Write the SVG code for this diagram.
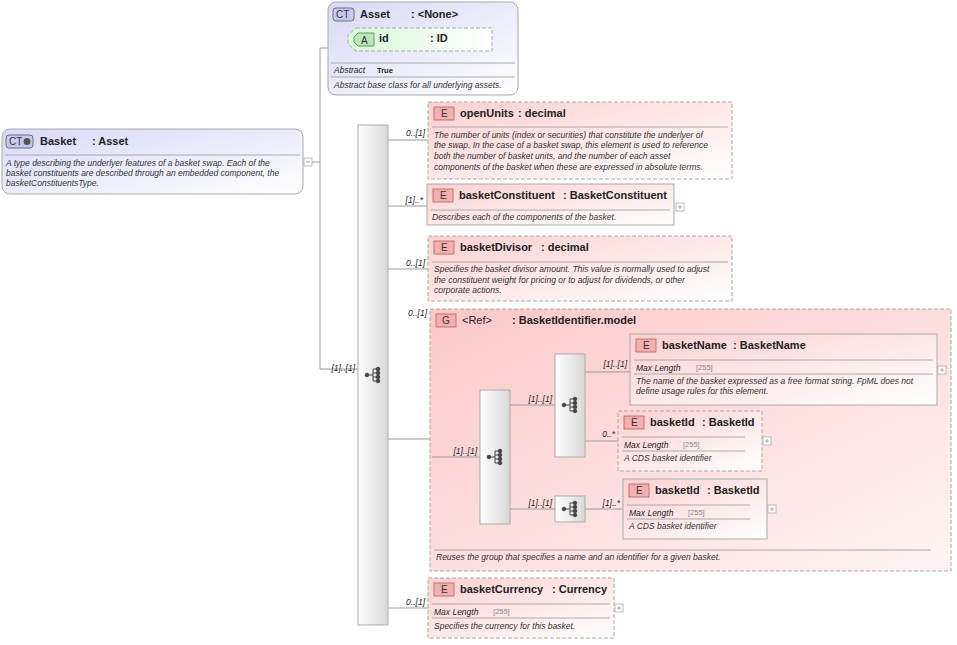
<svg xmlns="http://www.w3.org/2000/svg" width="957" height="645" viewBox="0 0 957 645">
<defs>
<linearGradient id="gct" x1="0" y1="0" x2="1" y2="1"><stop offset="0" stop-color="#d8d8f8"/><stop offset="1" stop-color="#ffffff"/></linearGradient>
<linearGradient id="gel" x1="0" y1="0" x2="1" y2="1"><stop offset="0" stop-color="#fcd0d0"/><stop offset="1" stop-color="#ffffff"/></linearGradient>
<linearGradient id="ggr" x1="0" y1="0" x2="1" y2="1"><stop offset="0" stop-color="#fcc8c8"/><stop offset="1" stop-color="#fff4f4"/></linearGradient>
<linearGradient id="gat" x1="0" y1="0" x2="1" y2="0"><stop offset="0" stop-color="#d8f8d8"/><stop offset="1" stop-color="#ffffff"/></linearGradient>
<linearGradient id="gseq" x1="0" y1="0" x2="1" y2="0"><stop offset="0" stop-color="#ffffff"/><stop offset="1" stop-color="#d8d8d8"/></linearGradient>
<g id="seqicon" fill="#444" stroke="#444" stroke-width="1">
<circle cx="-6" cy="0" r="1.8"/><line x1="-6" y1="0" x2="0" y2="0"/><line x1="0" y1="-6" x2="0" y2="6"/>
<line x1="0" y1="-6" x2="5" y2="-6"/><line x1="0" y1="6" x2="5" y2="6"/><line x1="0" y1="2" x2="5" y2="2"/><line x1="0" y1="-2" x2="5" y2="-2"/>
<circle cx="5" cy="-6" r="1.8"/><circle cx="5" cy="-2" r="1.8"/><circle cx="5" cy="2" r="1.8"/><circle cx="5" cy="6" r="1.8"/>
</g>
<g id="plus"><rect x="0" y="0" width="8" height="8" fill="#fff" stroke="#aaa" stroke-width="0.8"/><path d="M2 4h4M4 2v4" stroke="#999" stroke-width="0.8"/></g>
</defs>
<style>
text{font-family:"Liberation Sans",Arial,sans-serif;fill:#222}
.t{font-size:11px;font-weight:bold}
.d{font-size:8.5px;font-style:italic;fill:#333}
.m{font-size:8.5px;font-style:italic}
.v{font-size:7.5px;fill:#888}
.c{font-size:8.5px;font-style:italic}
.ct{fill:url(#gct);stroke:#aaa;stroke-width:1}
.el{fill:url(#gel);stroke:#aaa;stroke-width:1}
.eld{fill:url(#gel);stroke:#aaa;stroke-width:1;stroke-dasharray:4,2}
.sep{stroke:#999;stroke-width:0.8}
.seq{fill:url(#gseq);stroke:#aaa;stroke-width:1}
.badgeE{fill:#f4b0b0;stroke:#b06060;stroke-width:0.8}
.bl{font-size:10px;fill:#333}
.ln{stroke:#999;stroke-width:1;fill:none}
</style>

<g id="group">
<rect x="430" y="309" width="521" height="262" fill="url(#ggr)" stroke="#aaa" stroke-dasharray="4,2"/>
<rect x="436" y="314" width="20" height="13" fill="#f4b0b0" stroke="#b06060" stroke-width="0.8"/><text class="bl" x="442" y="324">G</text>
<text x="462" y="324" style="font-size:11px">&lt;Ref&gt;</text><text class="t" x="512" y="324">: BasketIdentifier.model</text>
<line class="sep" x1="434" y1="550" x2="931" y2="550"/>
<text class="d" x="436" y="560">Reuses the group that specifies a name and an identifier for a given basket.</text>
</g>

<g id="connectors">
<path class="ln" d="M312 162H320M320 48V369M320 48H350M320 369H358"/>
<path class="ln" d="M388 140H428M388 206H427M388 269H428M388 439H430M388 608H428"/>
<path class="ln" d="M432 457H480M510 405H555M510 509H555M585 372H630M585 441H618M585 509H623"/>
<text class="c" x="425" y="136" text-anchor="end">0..[1]</text>
<text class="c" x="423" y="203" text-anchor="end">[1]..*</text>
<text class="c" x="425" y="266" text-anchor="end">0..[1]</text>
<text class="c" x="427" y="316" text-anchor="end">0..[1]</text>
<text class="c" x="425" y="605" text-anchor="end">0..[1]</text>
<text class="c" x="355" y="371" text-anchor="end">[1]..[1]</text>
<text class="c" x="477" y="454" text-anchor="end">[1]..[1]</text>
<text class="c" x="552" y="402" text-anchor="end">[1]..[1]</text>
<text class="c" x="552" y="506" text-anchor="end">[1]..[1]</text>
<text class="c" x="627" y="367" text-anchor="end">[1]..[1]</text>
<text class="c" x="615" y="437" text-anchor="end">0..*</text>
<text class="c" x="620" y="506" text-anchor="end">[1]..*</text>
</g>

<g id="basket">
<rect class="ct" x="2" y="129" width="301" height="65" rx="8"/>
<rect x="6" y="135" width="27" height="13" rx="3" fill="#c8c8f0" stroke="#555" stroke-width="0.8"/>
<text class="bl" x="9" y="145">CT</text><circle cx="27" cy="141.5" r="3.5" fill="#555"/>
<text class="t" x="40" y="145">Basket</text><text class="t" x="92" y="145">: Asset</text>
<line class="sep" x1="5" y1="155" x2="300" y2="155"/>
<text class="d" x="6" y="166">A type describing the underlyer features of a basket swap. Each of the</text>
<text class="d" x="6" y="176">basket constituents are described through an embedded component, the</text>
<text class="d" x="6" y="186">basketConstituentsType.</text>
<rect x="304" y="158" width="8" height="8" fill="#fff" stroke="#aaa" stroke-width="0.8"/><path d="M306 162h4" stroke="#999"/>
</g>

<g id="asset">
<rect class="ct" x="328" y="2" width="190" height="93" rx="8"/>
<rect x="333" y="8" width="21" height="13" rx="3" fill="#c8c8f0" stroke="#555" stroke-width="0.8"/>
<text class="bl" x="336" y="18">CT</text>
<text class="t" x="360" y="18">Asset</text><text class="t" x="411" y="18">: &lt;None&gt;</text>
<path d="M356 28H492V51H356L348 44V35Z" fill="url(#gat)" stroke="#aaa" stroke-dasharray="4,2"/>
<path d="M358 33H374V46H358L354 42V37Z" fill="#b8e8b8" stroke="#508050" stroke-width="0.8"/>
<text class="bl" x="361" y="44">A</text>
<text class="t" x="379" y="42">id</text><text class="t" x="430" y="42">: ID</text>
<line class="sep" x1="331" y1="63" x2="515" y2="63"/>
<text class="m" x="334" y="73">Abstract</text><text x="377" y="73" style="font-size:7.5px;font-weight:bold">True</text>
<line class="sep" x1="331" y1="77" x2="515" y2="77"/>
<text class="d" x="334" y="88">Abstract base class for all underlying assets.</text>
</g>

<g id="seqMain"><rect class="seq" x="358" y="125" width="30" height="500"/><use href="#seqicon" x="373" y="375"/></g>

<g id="openUnits">
<rect class="eld" x="428" y="102" width="304" height="77"/>
<rect class="badgeE" x="434" y="107" width="20" height="13"/><text class="bl" x="441" y="117">E</text>
<text class="t" x="460" y="117">openUnits</text><text class="t" x="518" y="117">: decimal</text>
<line class="sep" x1="432" y1="127" x2="728" y2="127"/>
<text class="d" x="434" y="138">The number of units (index or securities) that constitute the underlyer of</text>
<text class="d" x="434" y="148">the swap. In the case of a basket swap, this element is used to reference</text>
<text class="d" x="434" y="159">both the number of basket units, and the number of each asset</text>
<text class="d" x="434" y="170">components of the basket when these are expressed in absolute terms.</text>
</g>

<g id="basketConstituent">
<rect class="el" x="427" y="184" width="247" height="41"/>
<rect class="badgeE" x="433" y="189" width="20" height="13"/><text class="bl" x="440" y="199">E</text>
<text class="t" x="459" y="199">basketConstituent</text><text class="t" x="563" y="199">: BasketConstituent</text>
<line class="sep" x1="431" y1="210" x2="670" y2="210"/>
<text class="d" x="432" y="220">Describes each of the components of the basket.</text>
<use href="#plus" x="676" y="203"/>
</g>

<g id="basketDivisor">
<rect class="eld" x="428" y="236" width="304" height="65"/>
<rect class="badgeE" x="434" y="241" width="20" height="13"/><text class="bl" x="441" y="251">E</text>
<text class="t" x="460" y="251">basketDivisor</text><text class="t" x="541" y="251">: decimal</text>
<line class="sep" x1="432" y1="262" x2="728" y2="262"/>
<text class="d" x="434" y="272">Specifies the basket divisor amount. This value is normally used to adjust</text>
<text class="d" x="434" y="283">the constituent weight for pricing or to adjust for dividends, or other</text>
<text class="d" x="434" y="293">corporate actions.</text>
</g>

<g id="seq1"><rect class="seq" x="480" y="390" width="30" height="134"/><use href="#seqicon" x="495" y="457"/></g>
<g id="seq2"><rect class="seq" x="555" y="354" width="30" height="103"/><use href="#seqicon" x="570" y="405"/></g>
<g id="seq3"><rect class="seq" x="555" y="496" width="30" height="26"/><use href="#seqicon" x="570" y="509"/></g>

<g id="basketName">
<rect class="el" x="630" y="334" width="307" height="71"/>
<rect class="badgeE" x="636" y="339" width="20" height="13"/><text class="bl" x="643" y="349">E</text>
<text class="t" x="662" y="349">basketName</text><text class="t" x="733" y="349">: BasketName</text>
<line class="sep" x1="634" y1="360" x2="933" y2="360"/>
<text class="m" x="636" y="371">Max Length</text><text class="v" x="696" y="370">[255]</text>
<line class="sep" x1="634" y1="374" x2="933" y2="374"/>
<text class="d" x="636" y="384">The name of the basket expressed as a free format string. FpML does not</text>
<text class="d" x="636" y="394">define usage rules for this element.</text>
<use href="#plus" x="938" y="366"/>
</g>

<g id="basketId1">
<rect class="eld" x="618" y="411" width="144" height="60"/>
<rect class="badgeE" x="624" y="416" width="20" height="13"/><text class="bl" x="631" y="426">E</text>
<text class="t" x="650" y="426">basketId</text><text class="t" x="702" y="426">: BasketId</text>
<line class="sep" x1="622" y1="437" x2="745" y2="437"/>
<text class="m" x="624" y="448">Max Length</text><text class="v" x="683" y="447">[255]</text>
<line class="sep" x1="622" y1="451" x2="745" y2="451"/>
<text class="d" x="624" y="461">A CDS basket identifier</text>
<use href="#plus" x="763" y="437"/>
</g>

<g id="basketId2">
<rect class="el" x="623" y="479" width="144" height="60"/>
<rect class="badgeE" x="629" y="484" width="20" height="13"/><text class="bl" x="636" y="494">E</text>
<text class="t" x="655" y="494">basketId</text><text class="t" x="707" y="494">: BasketId</text>
<line class="sep" x1="627" y1="505" x2="750" y2="505"/>
<text class="m" x="629" y="516">Max Length</text><text class="v" x="688" y="515">[255]</text>
<line class="sep" x1="627" y1="519" x2="750" y2="519"/>
<text class="d" x="629" y="529">A CDS basket identifier</text>
<use href="#plus" x="768" y="505"/>
</g>

<g id="basketCurrency">
<rect class="eld" x="428" y="578" width="186" height="60"/>
<rect class="badgeE" x="434" y="583" width="20" height="13"/><text class="bl" x="441" y="593">E</text>
<text class="t" x="460" y="593">basketCurrency</text><text class="t" x="552" y="593">: Currency</text>
<line class="sep" x1="432" y1="604" x2="610" y2="604"/>
<text class="m" x="434" y="615">Max Length</text><text class="v" x="493" y="614">[255]</text>
<line class="sep" x1="432" y1="618" x2="610" y2="618"/>
<text class="d" x="434" y="629">Specifies the currency for this basket.</text>
<use href="#plus" x="615" y="604"/>
</g>
</svg>
